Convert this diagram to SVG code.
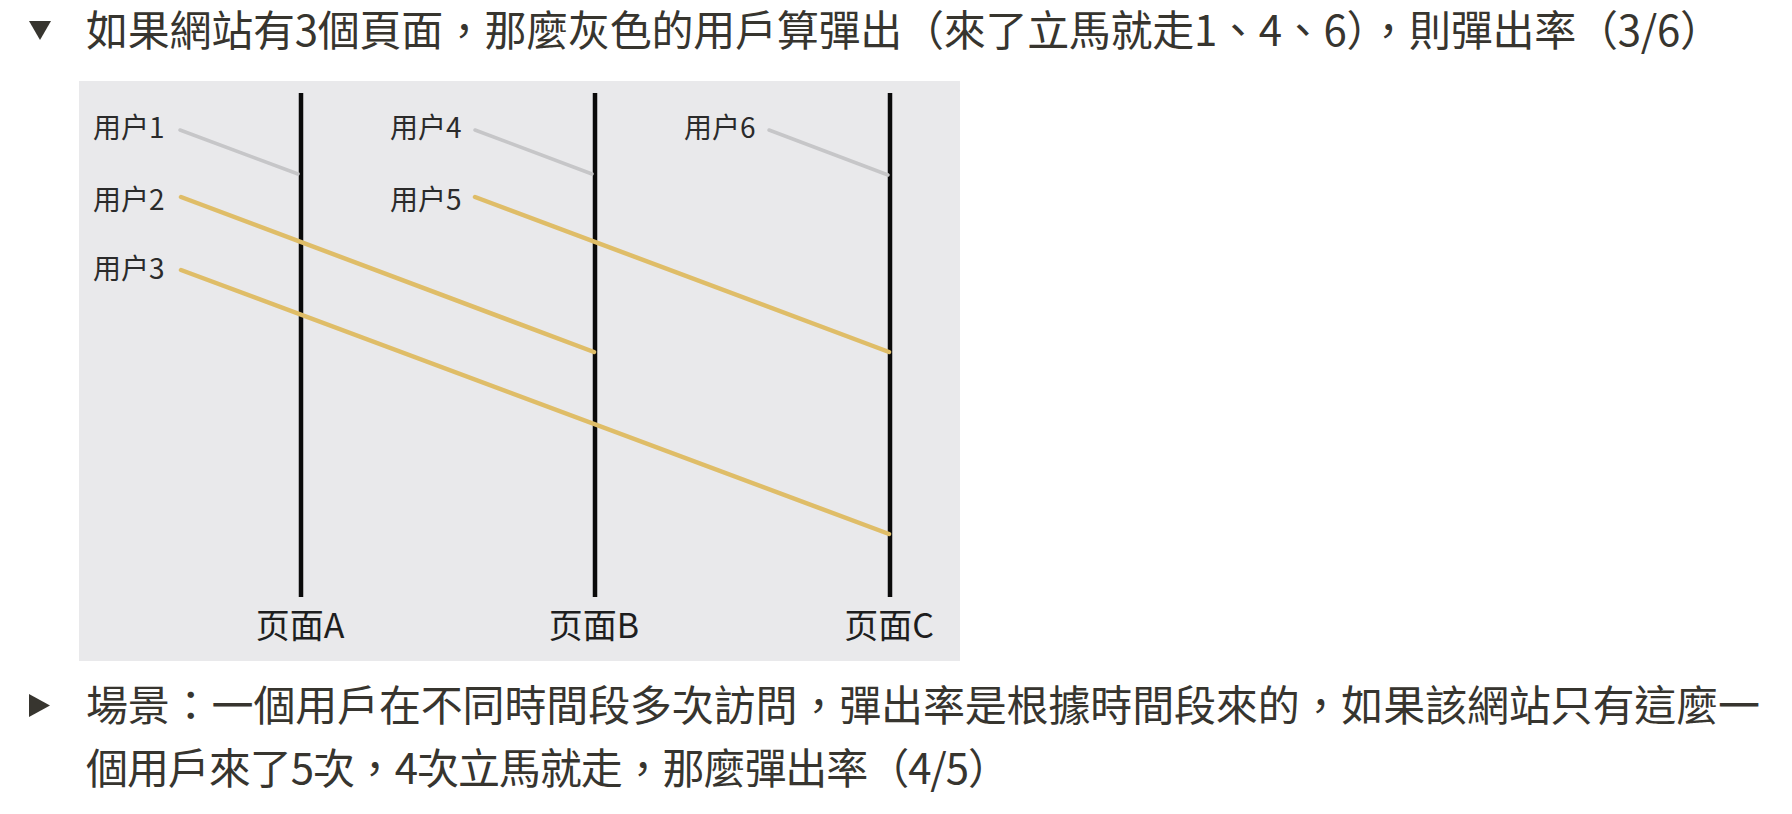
<svg xmlns="http://www.w3.org/2000/svg" width="1792" height="814" viewBox="0 0 1792 814">
<style>
.para{font-family:"Noto Sans CJK TC","Noto Sans CJK SC",sans-serif;font-size:42px;fill:#37352f;}
.lbl{font-family:"Noto Sans CJK SC","Noto Sans",sans-serif;font-size:28px;fill:#2b2b2b;}
.pg{font-family:"Noto Sans CJK SC","Noto Sans",sans-serif;font-size:34px;fill:#1e1e1e;text-anchor:middle;}
.page{stroke:#0a0a0a;stroke-width:4.5;}
.gray{stroke:#c6c6c8;stroke-width:3.5;stroke-linecap:round;fill:none;}
.gold{stroke:#dfbd68;stroke-width:4.5;stroke-linecap:round;fill:none;}
</style>
<rect width="1792" height="814" fill="#ffffff"/>
<g id="header">
<polygon points="29,21 51,21 40,40" fill="#37352f"/>
<text class="para" x="86" y="46" textLength="1636" lengthAdjust="spacing">如果網站有3個頁面，那麼灰色的用戶算彈出（來了立馬就走1、4、6），則彈出率（3/6）</text>
</g>
<rect id="panel" x="79" y="81" width="881" height="580" fill="#e9e9eb"/>
<g id="pageA">
<line class="page" x1="301" y1="93" x2="301" y2="597"/>
<text class="pg" x="300" y="638">页面A</text>
</g>
<g id="pageB">
<line class="page" x1="595" y1="93" x2="595" y2="597"/>
<text class="pg" x="594" y="638">页面B</text>
</g>
<g id="pageC">
<line class="page" x1="890" y1="93" x2="890" y2="597"/>
<text class="pg" x="889" y="638">页面C</text>
</g>
<g id="user1"><text class="lbl" x="93" y="138">用户1</text></g>
<g id="user2"><text class="lbl" x="93" y="210">用户2</text></g>
<g id="user3"><text class="lbl" x="93" y="279">用户3</text></g>
<g id="user4"><text class="lbl" x="390" y="138">用户4</text></g>
<g id="user5"><text class="lbl" x="390" y="210">用户5</text></g>
<g id="user6"><text class="lbl" x="684" y="138">用户6</text></g>
<g id="connectors">
<line class="gray" x1="180" y1="130" x2="298" y2="174"/>
<line class="gray" x1="475" y1="130" x2="592" y2="174"/>
<line class="gray" x1="769" y1="130" x2="888" y2="175"/>
<line class="gold" x1="181" y1="197" x2="594" y2="352"/>
<line class="gold" x1="181" y1="270" x2="889" y2="534"/>
<line class="gold" x1="475" y1="197" x2="889" y2="352"/>
</g>
<g id="footer">
<polygon points="29,694 50,705.5 29,717" fill="#37352f"/>
<text class="para" x="86" y="721" textLength="1674" lengthAdjust="spacing">場景：一個用戶在不同時間段多次訪問，彈出率是根據時間段來的，如果該網站只有這麼一</text>
<text class="para" x="86" y="784" textLength="924" lengthAdjust="spacing">個用戶來了5次，4次立馬就走，那麼彈出率（4/5）</text>
</g>
</svg>
